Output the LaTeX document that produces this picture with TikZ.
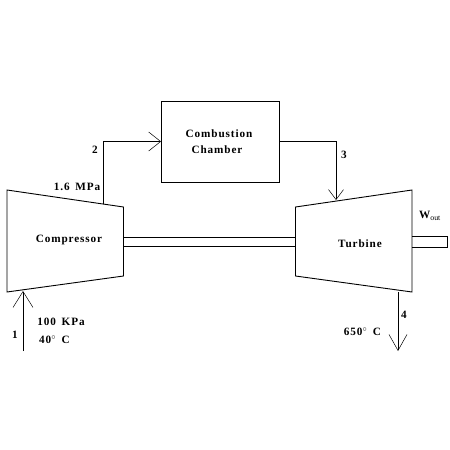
\documentclass[tikz,border=0pt]{standalone}
\usepackage{fontspec}
\setmainfont{Liberation Serif}
\usetikzlibrary{arrows.meta}
\tikzset{
  x=1pt,y=-1pt,
  ln/.style={draw=black,line width=0.9pt,line join=miter},
  flow/.style 2 args={ln,-{Straight Barb[length=#1,width=#2,line width=0.5pt]}},
  lbl/.style={inner sep=0pt,font=\fontsize{11.2}{12}\selectfont\bfseries\addfontfeatures{LetterSpace=8},text=black},
  boxn/.style={ln,minimum width=117.5pt,minimum height=81pt,inner sep=0pt,align=center}
}
\begin{document}
\begin{tikzpicture}
\useasboundingbox (0,0) rectangle (450,450);
\fill[white] (0,0) rectangle (450,450);
% compressor
\coordinate (ca) at (7,190);
\coordinate (cb) at (123.5,207);
\coordinate (cc) at (123.5,276);
\coordinate (cd) at (7,292);
\draw[ln] (ca)--(cb)--(cc)--(cd)--cycle;
% turbine
\coordinate (ta) at (295.5,207);
\coordinate (tb) at (412,190);
\coordinate (tc) at (412,292);
\coordinate (td) at (295.5,276);
\draw[ln] (ta)--(tb)--(tc)--(td)--cycle;
% shaft
\coordinate (s1) at (123.5,237);
\coordinate (s2) at (295.5,237);
\coordinate (s3) at (123.5,246);
\coordinate (s4) at (295.5,246);
\draw[ln] (s1)--(s2) (s3)--(s4);
\coordinate (o1) at (412,236);
\coordinate (o2) at (447,236);
\coordinate (o3) at (447,247);
\coordinate (o4) at (412,247);
\draw[ln] (o1)--(o2)--(o3)--(o4);
% chamber
\node[boxn] (chamber) at (220.25,141.5) {};
\node[lbl] (cmb1) at (219,133.5) {Combustion};
\node[lbl] (cmb2) at (217,149.5) {Chamber};
\node[lbl] (comp) at (69,240) {Compressor};
\node[lbl] (turb) at (360,244) {Turbine};
% flows
\coordinate (p2) at (103,204);
\coordinate (p3) at (336,200);
\coordinate (p1) at (23,351);
\coordinate (p1e) at (23,291);
\coordinate (p4) at (398,292);
\coordinate (p4e) at (398,351);
\draw[flow={12pt}{19pt}] (p2) |- (chamber.west);
\draw[flow={10pt}{15pt}] (chamber.east) -| (p3);
\draw[flow={16pt}{20pt}] (p1) -- (p1e);
\draw[flow={16pt}{18pt}] (p4) -- (p4e);
% labels
\node[lbl] (l2) at (95,150) {2};
\node[lbl] (l3) at (344,155) {3};
\node[lbl] (l1) at (15,335) {1};
\node[lbl] (l4) at (404,315) {4};
\node[lbl] (mpa) at (77,187) {1.6\hspace{2pt} MPa};
\node[lbl] (kpa) at (61,322) {100\hspace{2pt} KPa};
\node[lbl] (t40) at (54.5,340) {40$^{\circ}$\hspace{2pt} C};
\node[lbl] (t650) at (362.5,332) {650$^{\circ}$\hspace{2pt} C};
\node[lbl] (w) at (430,216) {W$_{\mathrm{out}}$};
\end{tikzpicture}
\end{document}
